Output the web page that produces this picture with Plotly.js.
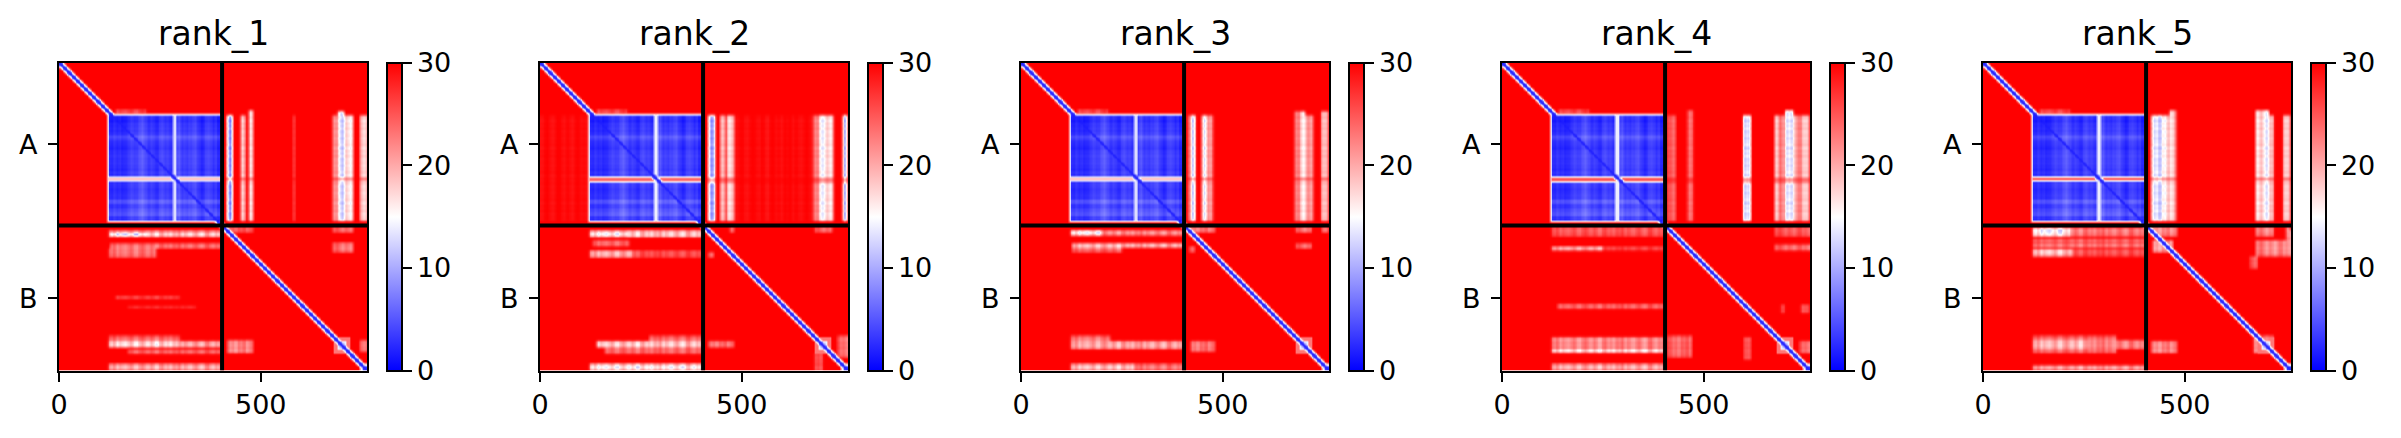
<!DOCTYPE html>
<html><head><meta charset="utf-8">
<script src="https://cdn.plot.ly/plotly-3.0.1.min.js"></script>
<style>html,body{margin:0;padding:0;background:#fff}</style></head>
<body><div id="chart" style="width:2401px;height:438px"></div>
<script>
// ---- values (residue index units, PAE in angstrom) ----
const panelNames = ["rank_1","rank_2","rank_3","rank_4","rank_5"];
const chainTicks = [202, 584];
const chainLabels = ["A","B"];
const xTicks = [0, 500];
const cbTicks = [0,10,20,30];
const chainBoundary = 404;
const totalLen = 764;
const diagProfile = [1.5,1.5,2,2.5,3.5,6,9,12,15,18,21,24,27,29,30];
const blockCols = [0,0,0.5,0,0.5,1,1.5,2,2.5,2,1,1,1,1.5,1.5,1,0.5,2,1.5,1,2,2,1,0.5,1,1.5,1,0];
const blockRows = [0,0,0,0.5,0.5,1,2.5,1,0.5,0.5,1,1,1,1,0.5,1,0,0.5,1,0.5,1,1,3,1,2,3,1,0];
const texCol = [-3,1,4,-2,-4,2,5,0,-3,3,-1,-5,2,4,-2,1,-4,3,0,5,-3,2,-1];
const texRow = [1,-1,-2,2,0,-1,2,1,-2,1,-1,2,-2,0,1,-1,2];
const fuzz = [[140,215,115,129,26]];
const pxLeft = [59,540,1021,1502,1983];

// row band [r0,r1,value] and column stripe [c0,c1,value] across the blue block
const rowBands = [[282,293,19],[282,296,24],[282,293,19],[282,296,25],[282,293,25]];
const colStripes = [[282,290,13],[281,291,14],[280,288,13],[280,290,14],[282,292,14]];

// patches [c0,c1,r0,r1,value]
const rank1_patches = [
 [414,430,129,392,16],[417,427,129,392,8],[450,461,129,392,16],[469,479,118,392,15],
 [579,583,129,392,24],[678,690,129,392,20],[690,706,120,392,13],[706,727,129,392,17],[745,761,129,392,18],
 [121,400,416,431,21],[125,215,421,427,9],[215,400,421,427,16],
 [125,400,447,460,23],[121,240,460,482,23],[140,300,578,585,26],[170,340,603,608,26],
 [121,300,676,690,24],[121,300,690,706,17],[300,400,690,706,20],[170,400,712,722,24],[121,400,746,761,20],
 [416,480,404,420,25],[678,727,404,420,24],[678,727,445,470,23],[416,480,688,720,22],[745,761,688,715,23]];
const rank2_patches = [
 [0,120,129,392,29.5],[480,680,129,392,29.5],[415,434,129,392,10],[446,459,129,392,18],[463,479,129,392,17],
 [678,690,129,392,21],[690,702,129,392,14],[702,725,129,392,17],[750,760,129,392,10],
 [121,400,416,431,18],[121,215,421,426,11],[130,220,440,455,24],[121,230,465,482,19],[230,400,465,482,25],
 [140,400,690,706,18],[270,400,676,690,24],[160,400,706,722,24],[121,400,746,761,16],
 [680,724,404,420,24],[470,480,404,420,23],[416,430,470,482,23],[416,480,690,706,23],[680,700,720,764,24],[735,764,676,730,24]];
const rank3_patches = [
 [411,419,129,392,23],[419,432,129,392,13],[445,450,129,392,23],[450,462,129,392,11],[464,475,129,392,21],
 [678,690,120,392,21],[690,704,120,392,16],[704,723,129,392,21],[744,760,120,392,19],
 [121,200,416,427,14],[200,400,416,427,21],[125,400,447,457,18],[125,250,457,470,24],
 [121,400,690,710,20],[121,220,676,690,23],[121,280,746,761,19],[280,400,746,761,23],
 [416,480,404,420,23],[680,720,404,420,23],[745,760,404,420,23],[680,720,448,460,23],[416,430,455,470,24],[420,480,690,715,23]];
const rank4_patches = [
 [408,429,129,392,24],[458,474,118,392,24],[598,615,129,392,11],
 [675,688,129,392,17],[690,700,129,392,20],[702,722,118,392,13],[722,745,129,392,21],[745,760,129,392,18],
 [121,400,404,430,25],[121,250,455,465,20],[250,400,455,465,26],[135,400,598,610,24],
 [121,400,680,720,22],[121,400,711,715,13],[121,400,746,761,20],
 [408,470,676,730,24],[675,764,404,430,25],[675,764,450,465,24],[690,700,600,620,25],[740,760,600,620,25],
 [600,615,680,735,24],[735,764,690,720,24]];
const rank5_patches = [
 [416,454,129,392,14],[454,462,129,392,16],[462,478,118,392,18],[675,708,118,392,15],[708,720,129,392,18],[743,760,129,392,18],
 [121,215,408,430,15],[215,400,408,430,23],[121,400,435,445,24],[121,400,447,458,22],[121,220,462,480,18],[220,400,462,480,25],
 [121,260,688,710,19],[260,400,688,710,22],[121,330,676,720,24],[121,400,750,761,21],
 [416,480,404,430,22],[420,470,440,470,21],[675,720,404,430,22],[750,760,404,430,22],[675,760,440,480,22],
 [416,480,690,720,22],[670,720,676,720,23],[750,764,416,480,23],[660,680,480,510,25]];
const allPatches = [rank1_patches,rank2_patches,rank3_patches,rank4_patches,rank5_patches];
const blobs = [[680,722,680,722,23],[690,712,690,712,14],[696,706,696,706,6],[746,764,746,764,16],[752,764,752,764,4]];

// ---- matrix assembly (only places the values above) ----
const STEP = 2, N = Math.floor(totalLen/STEP);
const coords = Array.from({length:N},(_,i)=>i*STEP+0.5);
function fill(z,c0,c1,r0,r1,fn){
  for(let i=0;i<N;i++){const r=coords[i]; if(r<r0||r>=r1) continue;
    for(let j=0;j<N;j++){const c=coords[j]; if(c<c0||c>=c1) continue; z[i][j]=fn(z[i][j],c,r);}}
}
const tex=(c,r)=>texCol[Math.floor(c/7)%texCol.length]+texRow[Math.floor(r/4)%texRow.length];
function soften(z){
  const o=Array.from({length:N},()=>new Array(N));
  for(let i=0;i<N;i++)for(let j=0;j<N;j++){
    let s=0,n=0;
    for(let a=-1;a<=1;a++)for(let b=-1;b<=1;b++){
      const p=i+a,q=j+b; if(p<0||q<0||p>=N||q>=N) continue; s+=z[p][q]; n++;
    }
    o[i][j]=s/n;
  }
  return o;
}
function buildMatrix(k){
  let z = Array.from({length:N},()=>new Array(N).fill(30));
  const setv=v=>()=>v;
  fuzz.forEach(f=>fill(z,f[0],f[1],f[2],f[3],(o,c,r)=>Math.min(o,f[4]+tex(c,r)*0.4)));
  const s=colStripes[k], b=rowBands[k];
  allPatches[k].forEach(p=>{
    const amp=0.15+0.7*(30-p[4])/15;
    fill(z,p[0],p[1],p[2],p[3],(o,c,r)=>Math.min(o,Math.min(30,Math.max(0,p[4]+tex(c,r)*amp))));
  });
  fill(z,404,totalLen,b[0]+1,b[1]-1,o=>o+(30-o)*0.5);
  z=soften(soften(z));
  fill(z,118,403,126,395,setv(21));
  fill(z,120,401,128,393,setv(14));
  fill(z,122,399,130,391,(o,c,r)=>{
    const a=blockCols[Math.min(27,Math.floor((c-120)/10))], b2=blockRows[Math.min(27,Math.floor((r-120)/10))];
    return Math.max(0.5,1.5+a+b2+tex(c,r)*0.15);
  });
  fill(z,s[0],s[1],130,391,setv(s[2]));
  fill(z,121,400,b[0],b[1],setv(b[2]));
  fill(z,121,400,b[0],b[0]+2,setv(14));
  fill(z,121,400,b[1]-2,b[1],setv(14));
  blobs.forEach(p=>fill(z,p[0],p[1],p[2],p[3],(o,c,r)=>Math.min(o,p[4])));
  for(let i=0;i<N;i++)for(let j=Math.max(0,i-8);j<Math.min(N,i+9);j++){
    const d=Math.abs(i-j)*STEP; if(d<diagProfile.length) z[i][j]=Math.min(z[i][j],diagProfile[d]);
  }
  return soften(z);
}

// ---- plot ----
const W=2401,H=438,PW=308,PT=62.5,PH=308,FONT="DejaVu Sans";
const tf={family:FONT,size:27,color:"#000"};
const bwr=[[0,"rgb(0,0,255)"],[0.5,"rgb(255,255,255)"],[1,"rgb(255,0,0)"]];
const data=[],layout={width:W,height:H,margin:{l:0,r:0,t:0,b:0},paper_bgcolor:"#fff",plot_bgcolor:"#fff",showlegend:false,annotations:[]};
panelNames.forEach((name,k)=>{
  const xa="x"+(k+1),ya="y"+(k+1),sx=k?k+1:"";
  const L=pxLeft[k];
  data.push({type:"heatmap",z:buildMatrix(k),x:coords,y:coords,xaxis:xa,yaxis:ya,zmin:0,zmax:30,colorscale:bwr,zsmooth:"best",hoverinfo:"skip",
    colorbar:{x:(L+PW+20)/W,xanchor:"left",y:1-(PT+PH/2)/H,yanchor:"middle",len:PH/H,lenmode:"fraction",thickness:15,thicknessmode:"pixels",xpad:0,ypad:0,
      outlinewidth:2,outlinecolor:"#000",ticks:"outside",ticklen:9,tickwidth:2,tickcolor:"#000",tickmode:"array",tickvals:cbTicks,ticktext:cbTicks.map(String),tickfont:tf}});
  [[[chainBoundary,chainBoundary],[-0.5,totalLen-0.5]],[[-0.5,totalLen-0.5],[chainBoundary,chainBoundary]]].forEach(l=>{
    data.push({type:"scatter",mode:"lines",x:l[0],y:l[1],xaxis:xa,yaxis:ya,line:{color:"#000",width:4},hoverinfo:"skip"});
  });
  const ax={showgrid:false,zeroline:false,showline:true,mirror:true,linecolor:"#000",linewidth:2,ticks:"outside",ticklen:9,tickwidth:2,tickcolor:"#000",tickfont:tf,tickmode:"array"};
  layout["xaxis"+sx]=Object.assign({},ax,{domain:[L/W,(L+PW)/W],range:[-0.5,totalLen-0.5],anchor:ya,tickvals:xTicks,ticktext:xTicks.map(String)});
  layout["yaxis"+sx]=Object.assign({},ax,{domain:[1-(PT+PH)/H,1-PT/H],range:[totalLen-0.5,-0.5],anchor:xa,tickvals:chainTicks,ticktext:chainLabels,ticklabelstandoff:5});
  layout.annotations.push({xref:"paper",yref:"paper",x:(L+PW/2)/W,y:1-34/H,xanchor:"center",yanchor:"middle",showarrow:false,text:name,font:{family:FONT,size:33,color:"#000"}});
});
Plotly.newPlot("chart",data,layout,{staticPlot:true,displayModeBar:false});
</script></body></html>
